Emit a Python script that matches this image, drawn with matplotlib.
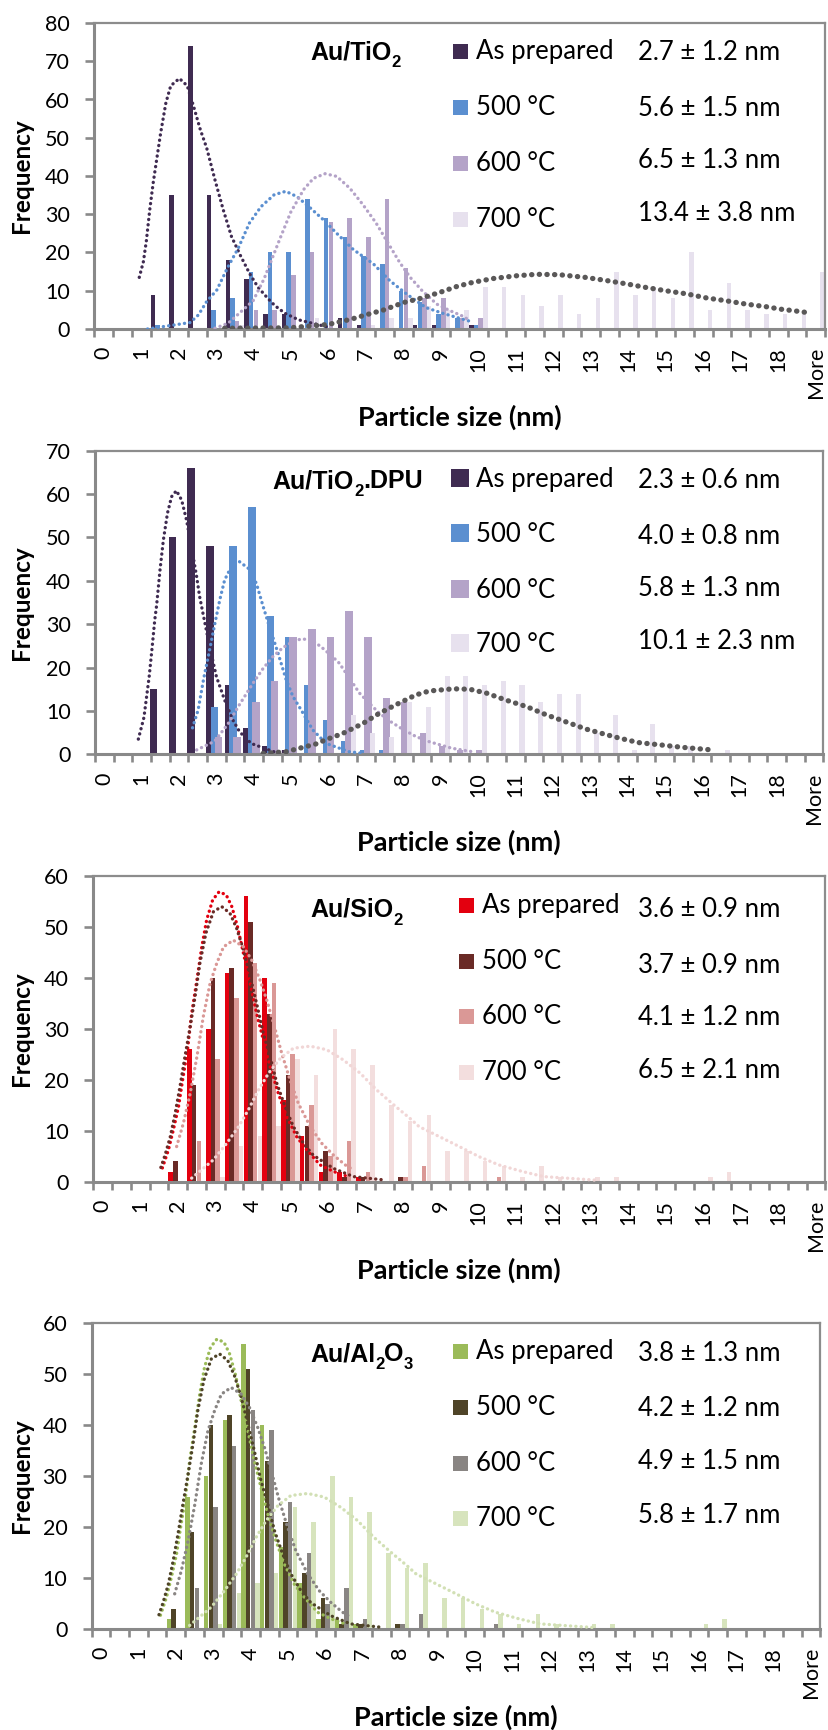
import matplotlib.pyplot as plt
import numpy as np
from matplotlib.patches import Rectangle

plt.rcParams['font.family'] = ['Lato', 'DejaVu Sans']

W, H = 829, 1730

# histogram bins (nm), Excel style, with the overflow bin at the end
BINS = ["0", "0.5", "1", "1.5", "2", "2.5", "3", "3.5", "4", "4.5", "5", "5.5",
        "6", "6.5", "7", "7.5", "8", "8.5", "9", "9.5", "10", "10.5", "11", "11.5",
        "12", "12.5", "13", "13.5", "14", "14.5", "15", "15.5", "16", "16.5",
        "17", "17.5", "18", "18.5", "More"]
SERIES = ["As prepared", "500 °C", "600 °C", "700 °C"]

# ---- Au/TiO2 ----
TIO2_AS = [0, 0, 0, 9, 35, 74, 35, 18, 13, 4, 4, 0, 0, 3, 1, 0, 0, 1, 1, 0,
           1, 0, 0, 0, 0, 0, 0, 0, 0, 0, 0, 0, 0, 0, 0, 0, 0, 0, 0]
TIO2_500 = [0, 0, 0, 1, 0, 0, 5, 8, 15, 20, 20, 34, 29, 24, 19, 17, 10, 7, 4, 3,
            1, 0, 0, 0, 0, 0, 0, 0, 0, 0, 0, 0, 0, 0, 0, 0, 0, 0, 0]
TIO2_600 = [0, 0, 0, 0, 0, 0, 0, 2, 5, 5, 14, 20, 28, 29, 24, 34, 16, 8, 8, 3,
            3, 0, 0, 0, 0, 0, 0, 0, 0, 0, 0, 0, 0, 0, 0, 0, 0, 0, 0]
TIO2_700 = [0, 0, 0, 0, 0, 0, 0, 1, 0, 0, 0, 3, 0, 0, 1, 3, 3, 6, 5, 5,
            11, 11, 9, 6, 9, 4, 8, 15, 9, 11, 8, 20, 5, 12, 5, 4, 4, 4, 15]
TIO2_SIZES = ["2.7 ± 1.2 nm", "5.6 ± 1.5 nm", "6.5 ± 1.3 nm", "13.4 ± 3.8 nm"]
# fitted distributions (nm, frequency)
TIO2_FIT_AS = [(0.95, 13.5), (1.06, 17.6), (1.14, 23.1), (1.23, 31.2), (1.32, 38.1),
               (1.39, 42.7), (1.52, 51.2), (1.66, 59.1), (1.79, 63.6), (2.02, 65.5),
               (2.23, 63.6), (2.40, 58.2), (2.58, 52.1), (2.75, 47.3), (2.97, 39.0),
               (3.19, 31.2), (3.41, 24.2), (3.65, 19.2), (3.90, 14.4), (4.12, 10.9),
               (4.40, 7.8), (4.57, 6.1), (4.84, 4.1), (5.20, 2.4), (5.95, 0.6)]
TIO2_FIT_500 = [(1.17, 0.0), (2.31, 1.7), (2.53, 3.7), (2.75, 7.2), (3.02, 10.2),
                (3.32, 16.3), (3.59, 21.1), (3.89, 27.7), (4.20, 32.0), (4.55, 35.1),
                (4.86, 36.0), (5.16, 34.6), (5.52, 31.6), (5.87, 28.5), (6.22, 25.0),
                (6.66, 20.8), (7.20, 17.0), (7.64, 12.6), (8.09, 9.1), (8.60, 5.6),
                (9.05, 4.1), (9.78, 2.0)]
TIO2_FIT_600 = [(2.97, 0.2), (3.32, 1.5), (3.64, 4.3), (3.99, 7.4), (4.28, 13.1),
                (4.70, 23.5), (4.99, 30.5), (5.34, 36.5), (5.60, 39.4), (5.91, 40.6),
                (6.22, 39.9), (6.57, 36.8), (6.92, 32.5), (7.27, 27.7), (7.55, 23.1),
                (7.90, 17.4), (8.18, 13.5), (8.50, 10.0), (8.89, 6.5), (9.24, 4.8),
                (9.55, 3.5), (9.78, 2.2)]
TIO2_FIT_700 = [(3.23, 0.2), (4.95, 0.3), (6.00, 1.2), (6.62, 2.6), (7.00, 3.7),
                (7.48, 5.0), (8.00, 6.9), (8.49, 8.1), (8.98, 9.6), (9.42, 11.1),
                (9.85, 12.2), (10.40, 13.2), (11.00, 13.9), (11.55, 14.3), (12.15, 14.2),
                (12.85, 13.5), (13.40, 12.7), (13.95, 11.8), (14.45, 10.9), (15.00, 10.0),
                (15.55, 9.2), (16.10, 8.1), (16.60, 7.4), (17.15, 6.5), (17.70, 5.8),
                (18.05, 5.2), (18.40, 4.8), (18.70, 4.4)]

# ---- Au/TiO2.DPU ----
DPU_AS = [0, 0, 0, 15, 50, 66, 48, 16, 6, 2, 1, 0, 0, 0, 0, 0, 0, 0, 0, 0,
          0, 0, 0, 0, 0, 0, 0, 0, 0, 0, 0, 0, 0, 0, 0, 0, 0, 0, 0]
DPU_500 = [0, 0, 0, 0, 0, 0, 11, 48, 57, 32, 27, 16, 8, 3, 1, 1, 0, 0, 0, 0,
           0, 0, 0, 0, 0, 0, 0, 0, 0, 0, 0, 0, 0, 0, 0, 0, 0, 0, 0]
DPU_600 = [0, 0, 0, 0, 0, 0, 4, 4, 12, 17, 27, 29, 27, 33, 27, 13, 12, 5, 2, 1,
           1, 0, 0, 0, 0, 0, 0, 0, 0, 0, 0, 0, 0, 0, 0, 0, 0, 0, 0]
DPU_700 = [0, 0, 0, 0, 0, 0, 0, 0, 0, 1, 0, 0, 0, 9, 5, 4, 12, 11, 18, 18,
           16, 17, 16, 12, 14, 14, 5, 9, 1, 7, 2, 2, 0, 1, 0, 0, 0, 0, 0]
DPU_SIZES = ["2.3 ± 0.6 nm", "4.0 ± 0.8 nm", "5.8 ± 1.3 nm", "10.1 ± 2.3 nm"]
DPU_FIT_AS = [(0.91, 3.5), (1.06, 8.5), (1.20, 17.9), (1.28, 24.7), (1.35, 31.0),
              (1.40, 34.4), (1.49, 42.5), (1.58, 49.4), (1.69, 55.6), (1.80, 59.4),
              (1.93, 60.8), (2.07, 58.6), (2.20, 54.0), (2.33, 47.9), (2.47, 41.0),
              (2.55, 36.4), (2.64, 32.5), (2.82, 24.8), (3.00, 17.9), (3.22, 12.5),
              (3.44, 7.9), (3.62, 5.2), (3.93, 2.5), (4.60, 0.4)]
DPU_FIT_500 = [(2.36, 6.1), (2.51, 10.2), (2.66, 17.5), (2.80, 23.3), (2.96, 30.2),
               (3.09, 35.6), (3.22, 40.2), (3.40, 43.3), (3.62, 44.4), (3.85, 42.9),
               (4.07, 39.4), (4.25, 34.1), (4.42, 29.4), (4.65, 23.3), (4.87, 17.1),
               (5.05, 13.3), (5.27, 10.2), (5.58, 5.6), (5.94, 2.5), (6.55, 0.6),
               (6.95, 0.2)]
DPU_FIT_600 = [(2.47, 1.0), (2.95, 3.0), (3.31, 7.0), (3.62, 11.5), (3.98, 16.4),
               (4.25, 19.8), (4.51, 22.5), (4.78, 24.6), (5.05, 26.0), (5.27, 26.6),
               (5.54, 26.4), (5.80, 24.8), (6.11, 22.5), (6.29, 21.0), (6.47, 18.7),
               (6.83, 14.1), (7.18, 11.0), (7.36, 9.5), (7.67, 7.5), (7.98, 5.8),
               (8.34, 4.1), (8.70, 2.9), (9.30, 1.4), (9.85, 0.6)]
DPU_FIT_700 = [(4.25, 0.2), (4.87, 0.6), (5.67, 2.4), (5.94, 3.4), (6.38, 4.8),
               (6.92, 7.1), (7.35, 9.4), (7.80, 11.4), (8.34, 13.7), (8.70, 14.6),
               (9.34, 15.1), (9.78, 15.0), (10.23, 14.1), (10.75, 12.5), (11.30, 11.0),
               (11.83, 9.1), (12.35, 7.5), (12.90, 5.8), (13.45, 4.5), (13.80, 3.7),
               (14.30, 2.7), (14.85, 2.2), (15.48, 1.6), (16.28, 1.0)]

# ---- Au/SiO2 ----
SIO2_AS = [0, 0, 0, 0, 2, 26, 30, 41, 56, 40, 16, 9, 2, 2, 1, 0, 0, 0, 0, 0,
           0, 0, 0, 0, 0, 0, 0, 0, 0, 0, 0, 0, 0, 0, 0, 0, 0, 0, 0]
SIO2_500 = [0, 0, 0, 0, 4, 19, 40, 42, 51, 33, 21, 11, 6, 1, 1, 0, 1, 0, 0, 0,
            0, 0, 0, 0, 0, 0, 0, 0, 0, 0, 0, 0, 0, 0, 0, 0, 0, 0, 0]
SIO2_600 = [0, 0, 0, 0, 0, 8, 24, 36, 43, 39, 25, 15, 5, 8, 2, 0, 1, 3, 0, 0,
            0, 1, 0, 0, 0, 0, 0, 0, 0, 0, 0, 0, 0, 0, 0, 0, 0, 0, 0]
SIO2_700 = [0, 0, 0, 0, 0, 0, 1, 7, 9, 11, 24, 21, 30, 26, 23, 15, 12, 13, 6, 6,
            4, 3, 1, 3, 1, 0, 1, 1, 0, 0, 0, 0, 1, 2, 0, 0, 0, 0, 0]
SIO2_SIZES = ["3.6 ± 0.9 nm", "3.7 ± 0.9 nm", "4.1 ± 1.2 nm", "6.5 ± 2.1 nm"]
SIO2_FIT_AS = [(1.59, 2.7), (1.75, 6.2), (1.88, 10.1), (2.02, 14.7), (2.13, 20.0),
               (2.26, 25.9), (2.37, 33.0), (2.51, 39.6), (2.64, 46.1), (2.77, 51.4),
               (2.93, 55.3), (3.10, 56.9), (3.29, 56.3), (3.44, 54.0), (3.59, 50.1),
               (3.75, 44.8), (3.93, 38.9), (4.10, 33.0), (4.28, 27.8), (4.46, 22.6),
               (4.68, 17.3), (4.90, 12.8), (5.17, 8.8), (5.44, 6.2), (5.79, 3.3),
               (6.15, 2.0), (6.50, 1.1)]
SIO2_FIT_500 = [(1.55, 2.8), (1.66, 5.2), (1.80, 8.8), (1.93, 13.4), (2.06, 18.7),
                (2.19, 24.5), (2.33, 30.4), (2.46, 36.3), (2.59, 42.9), (2.75, 48.8),
                (2.95, 53.0), (3.17, 54.0), (3.39, 52.7), (3.57, 49.7), (3.75, 45.5),
                (3.93, 40.2), (4.10, 35.0), (4.28, 29.1), (4.46, 24.5), (4.64, 19.3),
                (4.86, 14.7), (5.08, 10.8), (5.35, 7.5), (5.61, 5.2), (5.88, 3.9),
                (6.15, 2.6), (6.68, 1.0), (7.55, 0.3)]
SIO2_FIT_600 = [(1.97, 6.9), (2.15, 11.5), (2.33, 17.3), (2.51, 24.5), (2.68, 32.4),
                (2.86, 38.9), (3.04, 42.9), (3.22, 46.1), (3.48, 47.4), (3.75, 46.1),
                (3.97, 43.5), (4.19, 39.6), (4.37, 35.7), (4.55, 31.1), (4.77, 25.2),
                (4.99, 20.0), (5.21, 15.4), (5.53, 10.8), (5.84, 7.5), (6.15, 5.2),
                (6.46, 3.3), (6.68, 2.3)]
SIO2_FIT_700 = [(2.37, 0.7), (2.95, 4.3), (3.30, 7.5), (3.62, 10.8), (3.88, 14.1),
                (4.15, 18.0), (4.42, 21.3), (4.73, 24.2), (5.08, 26.2), (5.53, 26.6),
                (5.97, 25.9), (6.41, 23.9), (6.86, 21.3), (7.30, 18.0), (7.75, 15.1),
                (8.19, 12.4), (8.43, 10.8), (8.79, 9.5), (9.50, 6.9), (10.03, 4.9),
                (10.55, 3.3), (11.18, 2.0), (11.75, 1.0), (13.15, 0.3)]

# ---- Au/Al2O3 ----
AL2O3_AS = [0, 0, 0, 0, 2, 26, 30, 41, 56, 40, 16, 9, 2, 2, 1, 0, 0, 0, 0, 0,
            0, 0, 0, 0, 0, 0, 0, 0, 0, 0, 0, 0, 0, 0, 0, 0, 0, 0, 0]
AL2O3_500 = [0, 0, 0, 0, 4, 19, 40, 42, 51, 33, 21, 11, 6, 1, 1, 0, 1, 0, 0, 0,
             0, 0, 0, 0, 0, 0, 0, 0, 0, 0, 0, 0, 0, 0, 0, 0, 0, 0, 0]
AL2O3_600 = [0, 0, 0, 0, 0, 8, 24, 36, 43, 39, 25, 15, 5, 8, 2, 0, 1, 3, 0, 0,
             0, 1, 0, 0, 0, 0, 0, 0, 0, 0, 0, 0, 0, 0, 0, 0, 0, 0, 0]
AL2O3_700 = [0, 0, 0, 0, 0, 0, 1, 7, 9, 11, 24, 21, 30, 26, 23, 15, 12, 13, 6, 6,
             4, 3, 1, 3, 1, 0, 1, 1, 0, 0, 0, 0, 1, 2, 0, 0, 0, 0, 0]
AL2O3_SIZES = ["3.8 ± 1.3 nm", "4.2 ± 1.2 nm", "4.9 ± 1.5 nm", "5.8 ± 1.7 nm"]
AL2O3_FIT_AS = SIO2_FIT_AS
AL2O3_FIT_500 = SIO2_FIT_500
AL2O3_FIT_600 = SIO2_FIT_600
AL2O3_FIT_700 = SIO2_FIT_700

AXIS_GREY = "#898989"


def fig_text(fig, x, y, s, **kw):
    return fig.text(x / W, 1 - y / H, s, **kw)


def draw_title(fig, x, y, pieces):
    """pieces: list of (text, is_subscript); drawn left to right."""
    renderer = fig.canvas.get_renderer()
    for txt, sub in pieces:
        t = fig_text(fig, x, y + (8 if sub else 0), txt, fontsize=12 if sub else 18,
                     fontweight='bold', family='Liberation Sans', va='baseline')
        x += t.get_window_extent(renderer=renderer).width


def draw_panel(fig, box, counts, fits, colors, fit_colors, sizes, title, title_xy,
               ymax, widths, offsets, legend, freq_y, xlabel_y, big_last_fit):
    left, top, right, bottom = box
    ax = fig.add_axes([left / W, 1 - bottom / H, (right - left) / W, (bottom - top) / H])
    x = np.arange(len(BINS))
    for i, vals in enumerate(counts):
        ax.bar(x + offsets[i], vals, widths[i], color=colors[i], linewidth=0, zorder=2)

    for i, pts in enumerate(fits):
        px = [2 * p[0] + 0.5 for p in pts]
        py = [p[1] for p in pts]
        if big_last_fit and i == 3:
            ax.plot(px, py, color=fit_colors[i], lw=3.8, linestyle=(0, (0.05, 1.4)),
                    dash_capstyle='round', zorder=4)
        else:
            ax.plot(px, py, color=fit_colors[i], lw=2.4, linestyle=(0, (0.05, 1.55)),
                    dash_capstyle='round', zorder=3)

    ax.set_xlim(0, len(BINS))
    ax.set_ylim(0, ymax)
    ax.set_yticks(np.arange(0, ymax + 1, 10))
    ax.set_xticks(np.arange(0, len(BINS) + 1))
    ax.set_xticklabels([])
    lab_pos = [i + 0.5 for i in range(len(BINS)) if i % 2 == 0]
    lab_txt = [BINS[i] for i in range(len(BINS)) if i % 2 == 0]
    ax.set_xticks(lab_pos, minor=True)
    ax.set_xticklabels(lab_txt, minor=True, rotation=90, va='top', ha='center')
    ax.tick_params(axis='x', which='major', direction='out', length=5.8, width=1.9,
                   color=AXIS_GREY)
    ax.tick_params(axis='x', which='minor', length=0, pad=13, labelsize=15.5)
    ax.tick_params(axis='y', direction='out', length=6.5, width=1.9, color=AXIS_GREY,
                   pad=11, labelsize=15.5)
    for side in ['left', 'bottom']:
        ax.spines[side].set_color(AXIS_GREY)
        ax.spines[side].set_linewidth(2.2)
    for side in ['top', 'right']:
        ax.spines[side].set_color("#8c8c8c")
        ax.spines[side].set_linewidth(1.6)

    # title, legend and mean sizes
    draw_title(fig, title_xy[0], title_xy[1], title)
    sq_x, sq, text_x, val_x, lab_base, val_base = legend
    for i in range(4):
        fig.add_artist(Rectangle((sq_x / W, 1 - lab_base[i] / H), sq / W, sq / H,
                                 transform=fig.transFigure, color=colors[i], lw=0))
        fig_text(fig, text_x, lab_base[i], SERIES[i], fontsize=18.5, va='baseline')
        fig_text(fig, val_x, val_base[i], sizes[i], fontsize=18.5, va='baseline')

    fig_text(fig, 22, freq_y, "Frequency", fontsize=17.5, fontweight='bold',
             rotation=90, ha='center', va='center')
    fig_text(fig, (left + right) / 2, xlabel_y, "Particle size (nm)", fontsize=19.5,
             fontweight='bold', ha='center', va='center')
    return ax


fig = plt.figure(figsize=(W / 100, H / 100), dpi=100)

draw_panel(fig, (94.3, 23, 825, 329),
           [TIO2_AS, TIO2_500, TIO2_600, TIO2_700],
           [TIO2_FIT_AS, TIO2_FIT_500, TIO2_FIT_600, TIO2_FIT_700],
           ["#3f2b51", "#5b8fd0", "#b4a3c8", "#e7e1ee"],
           ["#3f2b51", "#5b8fd0", "#b4a3c8", "#5a5858"],
           TIO2_SIZES, [("Au/TiO", False), ("2", True)], (310, 59),
           80, [0.24] * 4, [0.125, 0.375, 0.625, 0.875],
           (453.5, 15, 476, 638, [59.3, 115, 170.7, 226.7], [60, 115.7, 168.3, 220.7]),
           176, 417, True)

draw_panel(fig, (95, 450.7, 823.5, 754.3),
           [DPU_AS, DPU_500, DPU_600, DPU_700],
           [DPU_FIT_AS, DPU_FIT_500, DPU_FIT_600, DPU_FIT_700],
           ["#3f2b51", "#5b8fd0", "#b4a3c8", "#e7e1ee"],
           ["#3f2b51", "#5b8fd0", "#b4a3c8", "#5a5858"],
           DPU_SIZES, [("Au/TiO", False), ("2", True), (".DPU", False)], (272.7, 488),
           70, [0.41, 0.41, 0.41, 0.27], [0.14, 0.39, 0.61, 0.86],
           (451.5, 18, 476, 637.7, [486.7, 542.3, 597.7, 652.3], [488.3, 544, 595.7, 649.3]),
           602.5, 842, True)

draw_panel(fig, (93.3, 876, 825.3, 1181.7),
           [SIO2_AS, SIO2_500, SIO2_600, SIO2_700],
           [SIO2_FIT_AS, SIO2_FIT_500, SIO2_FIT_600, SIO2_FIT_700],
           ["#e3000f", "#6a2a26", "#da9896", "#f3dede"],
           ["#e3000f", "#6a2a26", "#da9896", "#f1d6d6"],
           SIO2_SIZES, [("Au/SiO", False), ("2", True)], (310, 916.7),
           60, [0.24] * 4, [0.125, 0.375, 0.625, 0.875],
           (459, 15, 482.3, 637.7, [912.7, 969, 1024.3, 1080], [916.7, 972.7, 1025, 1078.3]),
           1029, 1270, False)

draw_panel(fig, (91.7, 1323.3, 820.5, 1629),
           [AL2O3_AS, AL2O3_500, AL2O3_600, AL2O3_700],
           [AL2O3_FIT_AS, AL2O3_FIT_500, AL2O3_FIT_600, AL2O3_FIT_700],
           ["#9bbb59", "#4f4428", "#898583", "#d7e4bd"],
           ["#9bbb59", "#4f4428", "#898583", "#d2e0b5"],
           AL2O3_SIZES, [("Au/Al", False), ("2", True), ("O", False), ("3", True)],
           (310, 1361),
           60, [0.24] * 4, [0.125, 0.375, 0.625, 0.875],
           (453.3, 15, 476, 637.7, [1359.3, 1415, 1470.7, 1526], [1360.7, 1416, 1469.3, 1522.7]),
           1476, 1717, False)

fig.savefig("out.png", dpi=100)
